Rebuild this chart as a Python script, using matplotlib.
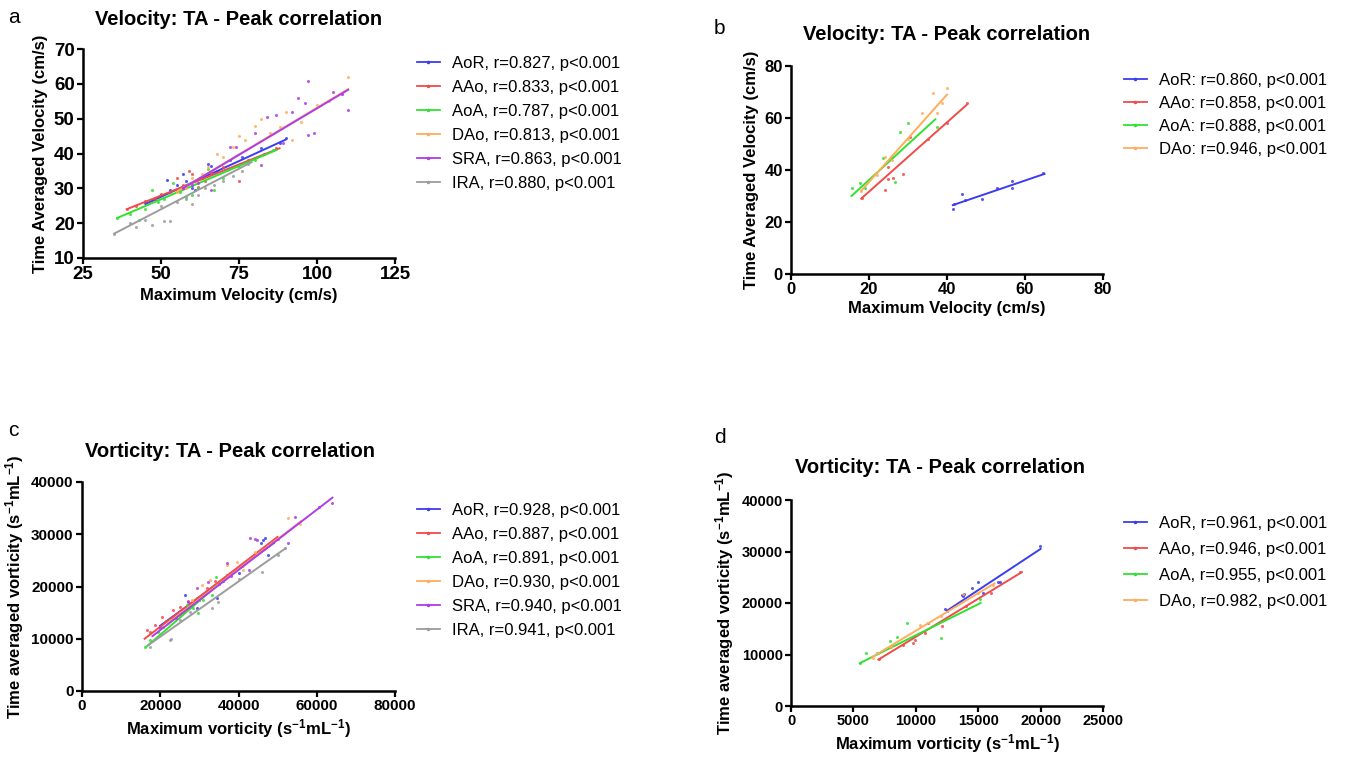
import matplotlib
matplotlib.use("Agg")
import matplotlib.pyplot as plt
from matplotlib.lines import Line2D

plt.rcParams['font.family'] = ['Liberation Sans', 'DejaVu Sans']
plt.rcParams['mathtext.default'] = 'regular'

W, H = 1349, 762

# ---------------- data ----------------
colors = ['#3c3cf2', '#f24a4a', '#2fe22f', '#ffad5c', '#b03ce8', '#9c9c9c']

# panel a : velocity, healthy group (6 regions)
a_names = ['AoR', 'AAo', 'AoA', 'DAo', 'SRA', 'IRA']
a_r = ['0.827', '0.833', '0.787', '0.813', '0.863', '0.880']
a_x = [
    [45, 48, 50, 52, 53, 55, 57, 58, 60, 61, 63, 65, 66, 68, 72, 76, 82, 88, 90],
    [39, 42, 45, 48, 50, 53, 55, 57, 59, 60, 62, 64, 66, 70, 75, 78, 83, 87],
    [36, 40, 43, 45, 47, 49, 51, 54, 56, 58, 60, 62, 65, 67, 70, 75, 80, 86],
    [55, 58, 60, 63, 65, 68, 70, 73, 75, 77, 80, 82, 85, 88, 90, 92, 95, 100, 104, 108, 110],
    [57, 60, 62, 66, 72, 74, 80, 82, 84, 87, 89, 92, 94, 96, 97, 97, 99, 105, 110, 108],
    [35, 40, 42, 45, 47, 50, 51, 53, 55, 58, 60, 62, 64, 67, 70, 73, 76, 78],
]
a_y = [
    [26, 27, 28, 32.5, 29.5, 31, 34, 32, 30, 29.5, 33, 37, 36.5, 35, 38, 39, 41.5, 43, 44.5],
    [24, 25, 26.5, 27, 28.5, 29, 33, 31, 35, 34, 30.5, 32, 34.5, 36, 32, 38, 40, 41.5],
    [21.5, 22.5, 21, 24, 29.5, 26, 27, 31.5, 29, 27.5, 28, 30, 35.5, 29.5, 33, 36, 38, 41],
    [29, 30, 33, 34, 36, 40, 39, 42, 45, 44, 48, 50, 46, 47.5, 52, 44, 49, 54, 55, 57, 62],
    [30, 31, 31.5, 29.5, 42, 42, 46, 36.7, 50.5, 51, 43, 52, 56, 54.5, 45.3, 60.8, 46, 57.7, 52.5, 57],
    [17, 20, 19, 21, 19.5, 25, 20.5, 20.5, 26, 27, 25.5, 28, 30, 31, 32, 33.5, 35, 37],
]
a_fit_x = [[45, 90], [39, 88], [36, 87], [55, 110], [57, 110], [35, 79]]
a_fit_y = [[25.5, 44], [24, 41.5], [21.5, 41], [29, 58.5], [30, 58.3], [17, 37.5]]

# panel b : velocity, second group (4 regions)
b_names = ['AoR', 'AAo', 'AoA', 'DAo']
b_r = ['0.860', '0.858', '0.888', '0.946']
b_x = [
    [41.5, 41.8, 43.8, 44.6, 49, 52.8, 56.7, 56.7, 64.6],
    [18.2, 24.1, 24.9, 26.2, 28.7, 24.9, 30.5, 35, 40, 45.1],
    [15.6, 17.7, 19, 23.6, 26, 26.7, 28, 30, 37.4],
    [18, 22, 24, 26, 30, 33.6, 36.4, 37.4, 38.7, 40],
]
b_y = [
    [25, 27, 30.8, 28.5, 28.8, 33, 35.8, 33, 38.8],
    [29.2, 32.3, 36.5, 36.9, 38.5, 41.2, 52.7, 52, 58, 65.8],
    [33, 35, 33, 44.6, 45, 35.4, 54.6, 58, 56.5],
    [32, 38, 45, 44, 52, 62, 69.6, 62, 65.8, 71.5],
]
b_fit_x = [[41.5, 65], [18, 45], [15.5, 37], [18, 40]]
b_fit_y = [[26.5, 38.5], [29, 65], [30, 59.5], [32, 69]]

# panel c : vorticity, healthy group (6 regions)
c_names = ['AoR', 'AAo', 'AoA', 'DAo', 'SRA', 'IRA']
c_r = ['0.928', '0.887', '0.891', '0.930', '0.940', '0.941']
c_x = [
    [20000, 23000, 26300, 29400, 30000, 33000, 34500, 36000, 40000, 45700, 46300, 46800, 47500, 48800],
    [16600, 17500, 18660, 20450, 21500, 23260, 25000, 27000, 29400, 31950, 34000, 37060, 41000, 44000, 50000],
    [16100, 17380, 19430, 20700, 22500, 25050, 25900, 26840, 28370, 29650, 31000, 33230, 34250],
    [22000, 25000, 28000, 30670, 32700, 37060, 39620, 41150, 44200, 52650, 55700],
    [20000, 24000, 27000, 29400, 32200, 35000, 37060, 38000, 42680, 42930, 44200, 44700, 52650, 54440, 60570, 63900],
    [17380, 22500, 22750, 25050, 27600, 33230, 34760, 40000, 46000, 50000, 52000],
]
c_y = [
    [12500, 14000, 18400, 15900, 17500, 19500, 17800, 21000, 22500, 28300, 28900, 29300, 26000, 28500],
    [11700, 11200, 12600, 14200, 13400, 15500, 16000, 17200, 17800, 19700, 21000, 22200, 24000, 26000, 29000],
    [8400, 9760, 11300, 12250, 13600, 14550, 15200, 16500, 15900, 14900, 17500, 18400, 21800],
    [13000, 15000, 17500, 20300, 21200, 24100, 24700, 23100, 26600, 33100, 32000],
    [12000, 14000, 17000, 19700, 20900, 20500, 24500, 22000, 23100, 29300, 29100, 28900, 28300, 33300, 35200, 36000],
    [8400, 9760, 9950, 13600, 15100, 15900, 17000, 21500, 22700, 26000, 27300],
]
c_fit_x = [[20000, 49000], [16000, 50000], [16500, 35000], [22000, 56000], [18000, 64000], [17000, 52000]]
c_fit_y = [[12500, 28300], [10000, 29500], [8500, 20500], [13000, 32500], [10500, 37000], [8800, 27300]]

# panel d : vorticity, second group (4 regions)
d_names = ['AoR', 'AAo', 'AoA', 'DAo']
d_r = ['0.961', '0.946', '0.955', '0.982']
d_x = [
    [12340, 12500, 13700, 13800, 13860, 14500, 14990, 15380, 16590, 16750, 19950],
    [7050, 8970, 9780, 9940, 10740, 10980, 12100, 14000, 16000, 18350],
    [5530, 6010, 6870, 7930, 8490, 9300, 12020, 15150],
    [6570, 8000, 10340, 12000, 13780, 15000, 16190],
]
d_y = [
    [18800, 18500, 21500, 21300, 21700, 22900, 24100, 21900, 24100, 24100, 31000],
    [9100, 11800, 12200, 12800, 14200, 16100, 15500, 19500, 22000, 26000],
    [8350, 10300, 10300, 12600, 13400, 16100, 13200, 20800],
    [9300, 11500, 15700, 17500, 21700, 22000, 23500],
]
d_fit_x = [[12500, 20000], [7000, 18500], [5500, 15200], [6500, 16300]]
d_fit_y = [[18500, 30500], [9000, 26000], [8300, 20000], [9500, 23800]]

vel_x = 'Maximum Velocity (cm/s)'
vel_y = 'Time Averaged Velocity (cm/s)'
vor_x = r'Maximum vorticity (s$^{-1}$mL$^{-1}$)'
vor_y = r'Time averaged vorticity (s$^{-1}$mL$^{-1}$)'


def draw_panel(fig, rect, xs, ys, fx, fy, names, rvals, sep, xlim, xticks, ylim, yticks,
               xlabel, ylabel, title, title_x, title_pad, tick_fs, leg_xy, leg_space,
               letter, letter_xy):
    ax = fig.add_axes(rect)
    for i in range(len(names)):
        ax.plot(xs[i], ys[i], 'o', ms=2.2, color=colors[i], mec='none', alpha=0.85)
        ax.plot(fx[i], fy[i], '-', lw=1.4, color=colors[i])

    ax.set_xlim(xlim)
    ax.set_ylim(ylim)
    ax.set_xticks(xticks)
    ax.set_yticks(yticks)
    for s in ['top', 'right']:
        ax.spines[s].set_visible(False)
    for s in ['left', 'bottom']:
        ax.spines[s].set_linewidth(1.8)
    ax.tick_params(direction='out', length=4, width=1.6, labelsize=tick_fs, pad=2)
    for lab in ax.get_xticklabels() + ax.get_yticklabels():
        lab.set_fontweight('bold')
    ax.set_xlabel(xlabel, fontsize=12, fontweight='bold', labelpad=3)
    ax.set_ylabel(ylabel, fontsize=12, fontweight='bold', labelpad=4)
    ax.set_title(title, fontsize=14.5, fontweight='bold', x=title_x, pad=title_pad)

    handles = [Line2D([], [], color=colors[i], lw=1.3, marker='.', ms=3) for i in range(len(names))]
    labels = [n + sep + ' r=' + r + ', p<0.001' for n, r in zip(names, rvals)]
    ax.legend(handles, labels, loc='upper left',
              bbox_to_anchor=(leg_xy[0] / W, 1 - leg_xy[1] / H),
              bbox_transform=fig.transFigure, frameon=False, fontsize=12,
              handlelength=1.35, handletextpad=0.75, labelspacing=leg_space,
              borderpad=0, borderaxespad=0, numpoints=1)

    fig.text(letter_xy[0] / W, 1 - letter_xy[1] / H, letter, fontsize=15)
    return ax


def make_figure():
    fig = plt.figure(figsize=(W / 100, H / 100), dpi=100)

    draw_panel(fig, [83 / W, 1 - 258 / H, 312 / W, 209 / H], a_x, a_y, a_fit_x, a_fit_y,
               a_names, a_r, ',', (25, 125), [25, 50, 75, 100, 125], (10, 70),
               [10, 20, 30, 40, 50, 60, 70], vel_x, vel_y,
               'Velocity: TA - Peak correlation', 0.497, 17, 13.5,
               (417, 56), 0.54, 'a', (8, 23))

    draw_panel(fig, [791 / W, 1 - 274 / H, 312 / W, 208 / H], b_x, b_y, b_fit_x, b_fit_y,
               b_names, b_r, ':', (0, 80), [0, 20, 40, 60, 80], (0, 80),
               [0, 20, 40, 60, 80], vel_x, vel_y,
               'Velocity: TA - Peak correlation', 0.5, 19, 12,
               (1124, 73), 0.48, 'b', (714, 34))

    draw_panel(fig, [82 / W, 1 - 691 / H, 313 / W, 209 / H], c_x, c_y, c_fit_x, c_fit_y,
               c_names, c_r, ',', (0, 80000), [0, 20000, 40000, 60000, 80000], (0, 40000),
               [0, 10000, 20000, 30000, 40000], vor_x, vor_y,
               'Vorticity: TA - Peak correlation', 0.473, 18, 11,
               (417, 503), 0.54, 'c', (8, 436))

    draw_panel(fig, [791 / W, 1 - 706 / H, 312 / W, 206 / H], d_x, d_y, d_fit_x, d_fit_y,
               d_names, d_r, ',', (0, 25000), [0, 5000, 10000, 15000, 20000, 25000], (0, 40000),
               [0, 10000, 20000, 30000, 40000], vor_x, vor_y,
               'Vorticity: TA - Peak correlation', 0.478, 19.5, 10.5,
               (1124, 516), 0.66, 'd', (714, 443))

    fig.savefig('out.png', dpi=100)


if __name__ == "__main__":
    make_figure()
